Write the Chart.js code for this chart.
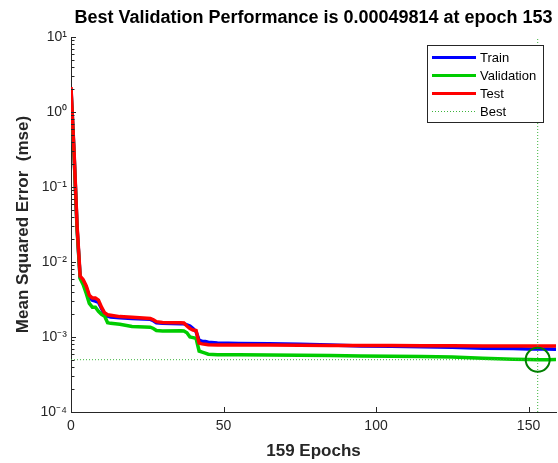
<!DOCTYPE html>
<html><head><meta charset="utf-8">
<script src="https://cdn.jsdelivr.net/npm/chart.js@4"></script>
<style>html,body{margin:0;padding:0;background:#fff;overflow:hidden}#wrap{width:558px;height:463px;position:relative}</style>
</head><body><div id="wrap"><canvas id="c" width="558" height="463"></canvas></div>
<script>
// ---- data ----
const epochs        = [0, 1, 2, 3, 4, 5, 6, 7, 8, 9, 10, 11, 12, 13, 16, 20, 26, 27, 28, 30, 36, 37, 38, 39, 40, 41, 42, 43, 44, 45, 48, 55, 65, 75, 85, 95, 105, 115, 125, 135, 145, 150, 153, 156, 159];
const trainMSE      = [2.05, 0.28, 0.028, 0.0062, 0.0056, 0.0046, 0.0034, 0.0031, 0.0030, 0.0029, 0.0024, 0.0020, 0.0019, 0.00185, 0.0018, 0.00176, 0.00172, 0.00165, 0.00155, 0.00152, 0.0015, 0.0015, 0.00145, 0.0014, 0.0013, 0.00118, 0.0009, 0.00088, 0.00087, 0.00085, 0.00083, 0.00082, 0.00081, 0.0008, 0.00078, 0.00076, 0.00075, 0.00074, 0.00073, 0.00071, 0.0007, 0.00069, 0.00069, 0.00069, 0.000685];
const validationMSE = [1.95, 0.27, 0.027, 0.006, 0.005, 0.0038, 0.0028, 0.0025, 0.0025, 0.0022, 0.0020, 0.0019, 0.00155, 0.00152, 0.00148, 0.00138, 0.00135, 0.0013, 0.00122, 0.0012, 0.00121, 0.0012, 0.00114, 0.0010, 0.00098, 0.00096, 0.00065, 0.00063, 0.00061, 0.00059, 0.00058, 0.00058, 0.000575, 0.00057, 0.000565, 0.00056, 0.000555, 0.00055, 0.00054, 0.00052, 0.000505, 0.0005, 0.000498, 0.000499, 0.0005];
const testMSE       = [2.15, 0.3, 0.03, 0.0065, 0.0058, 0.0048, 0.0036, 0.0033, 0.0033, 0.0031, 0.0025, 0.0021, 0.00198, 0.00195, 0.00187, 0.00183, 0.00177, 0.0017, 0.0016, 0.00156, 0.00155, 0.00154, 0.0014, 0.0013, 0.00124, 0.00122, 0.00083, 0.00081, 0.0008, 0.00079, 0.00078, 0.00078, 0.00078, 0.000775, 0.00077, 0.00077, 0.00077, 0.000765, 0.000765, 0.00076, 0.00076, 0.00076, 0.00076, 0.00076, 0.00076];
const bestEpoch = 153;
const bestPerf  = 0.00049814;
const xTickValues = [0, 50, 100, 150];
const xTickLabels = ['0', '50', '100', '150'];
const yTickValues = [1e-4, 1e-3, 1e-2, 1e-1, 1, 10];
const yTickLabels = ['10⁻⁴', '10⁻³', '10⁻²', '10⁻¹', '10⁰', '10¹'];
const seriesNames = ['Train', 'Validation', 'Test', 'Best'];
const titleText = 'Best Validation Performance is 0.00049814 at epoch 153';
const xTitleText = '159 Epochs';
const yTitleText = 'Mean Squared Error  (mse)';
const maxEpoch = 159;

// ---- styles ----
const FONT = "'Liberation Sans', Arial, Helvetica, sans-serif";
const colors = { train: '#0000ff', validation: '#00cc00', test: '#ff0000', best: '#3cb43c', circle: '#007f00' };
const axisColor = '#262626';

const pts = arr => epochs.map((e, i) => ({ x: e, y: arr[i] }));

const overlay = {
  id: 'overlay',
  afterDatasetsDraw(chart) {
    const { ctx, chartArea: a, scales: { x, y } } = chart;
    ctx.save();
    ctx.strokeStyle = axisColor; ctx.lineWidth = 1;
    ctx.beginPath();
    xTickValues.forEach(v => {
      const px = Math.round(x.getPixelForValue(v)) + 0.5;
      ctx.moveTo(px, a.bottom); ctx.lineTo(px, a.bottom - 5);
    });
    for (let d = -4; d <= 1; d++) {
      for (let m = 1; m <= 9; m++) {
        const v = m * Math.pow(10, d);
        if (v > 10.0001) break;
        const py = Math.round(y.getPixelForValue(v)) + 0.5;
        ctx.moveTo(a.left, py); ctx.lineTo(a.left + (m === 1 ? 5 : 3.5), py);
      }
    }
    ctx.stroke();
    ctx.restore();
  },
  afterDraw(chart) {
    const { ctx, chartArea: a } = chart;
    ctx.save();
    // title
    ctx.fillStyle = '#000';
    ctx.font = 'bold 18px ' + FONT;
    ctx.textAlign = 'center'; ctx.textBaseline = 'middle';
    ctx.fillText(titleText, (a.left + a.right) / 2, 18);
    // legend
    const bx = 427.5, by = 45.5, bw = 116, bh = 77;
    ctx.fillStyle = '#fff'; ctx.fillRect(bx, by, bw, bh);
    ctx.strokeStyle = axisColor; ctx.lineWidth = 1; ctx.strokeRect(bx, by, bw, bh);
    const legendColors = [colors.train, colors.validation, colors.test, colors.best];
    ctx.font = '13px ' + FONT; ctx.textAlign = 'left';
    seriesNames.forEach((name, i) => {
      const yy = 57.5 + i * 18;
      ctx.beginPath();
      ctx.strokeStyle = legendColors[i];
      if (i === 3) { ctx.lineWidth = 1; ctx.setLineDash([1, 2]); } else { ctx.lineWidth = 3; ctx.setLineDash([]); }
      ctx.moveTo(432, yy); ctx.lineTo(476, yy); ctx.stroke();
      ctx.setLineDash([]);
      ctx.fillStyle = '#000';
      ctx.fillText(name, 480, yy + 1);
    });
    ctx.restore();
  }
};

const lineDs = (label, data, color, order) => ({
  label, data: pts(data), borderColor: color, backgroundColor: color,
  borderWidth: 3.5, pointRadius: 0, tension: 0, order, fill: false
});

new Chart(document.getElementById('c'), {
  type: 'line',
  data: {
    datasets: [
      lineDs(seriesNames[0], trainMSE, colors.train, 3),
      lineDs(seriesNames[1], validationMSE, colors.validation, 2),
      lineDs(seriesNames[2], testMSE, colors.test, 1),
      { label: 'Best', data: [{ x: 0, y: bestPerf }, { x: bestEpoch, y: bestPerf }], borderColor: colors.best, borderWidth: 1, borderDash: [1, 2], pointRadius: 0, order: 0, fill: false },
      { label: 'BestV', data: [{ x: bestEpoch, y: 1e-4 }, { x: bestEpoch, y: 10 }], borderColor: colors.best, borderWidth: 1, borderDash: [1, 2], pointRadius: 0, order: 0, fill: false },
      { type: 'scatter', label: 'BestPoint', data: [{ x: bestEpoch, y: bestPerf }], pointRadius: 12, pointBorderWidth: 2, pointBorderColor: colors.circle, pointBackgroundColor: 'rgba(0,0,0,0)', order: -1, showLine: false }
    ]
  },
  options: {
    responsive: false, animation: false, devicePixelRatio: 1,
    layout: { autoPadding: false, padding: { top: 37, right: 2, bottom: 0, left: 0 } },
    plugins: { legend: { display: false }, title: { display: false }, tooltip: { enabled: false } },
    scales: {
      x: {
        type: 'linear', min: 0, max: maxEpoch,
        afterBuildTicks: s => { s.ticks = xTickValues.map(v => ({ value: v })); },
        afterFit: s => { s.height = 51; s.paddingLeft = 0; s.paddingRight = 0; },
        ticks: { autoSkip: false, maxRotation: 0, padding: 6, color: axisColor, font: { family: FONT, size: 14 },
                 callback: (v) => xTickLabels[xTickValues.indexOf(v)] },
        grid: { display: false, drawTicks: false },
        border: { display: true, color: axisColor, width: 1 },
        title: { display: true, text: xTitleText, color: '#262626', font: { family: FONT, size: 17, weight: 'bold' }, padding: { top: 0, bottom: 1 } }
      },
      y: {
        type: 'logarithmic', min: 1e-4, max: 10,
        afterBuildTicks: s => { s.ticks = yTickValues.map(v => ({ value: v })); },
        afterFit: s => { s.width = 71; s.paddingTop = 0; s.paddingBottom = 0; },
        ticks: { autoSkip: false, padding: 4, color: axisColor, font: { family: FONT, size: 14 },
                 callback: (v) => { const i = yTickValues.findIndex(t => Math.abs(Math.log10(t) - Math.log10(v)) < 1e-6); return i >= 0 ? yTickLabels[i] : ''; } },
        grid: { display: false, drawTicks: false },
        border: { display: true, color: axisColor, width: 1 },
        title: { display: true, text: yTitleText, color: '#262626', font: { family: FONT, size: 17, weight: 'bold' }, padding: { top: 13, bottom: 0 } }
      }
    }
  },
  plugins: [overlay]
});
</script>
</body></html>
